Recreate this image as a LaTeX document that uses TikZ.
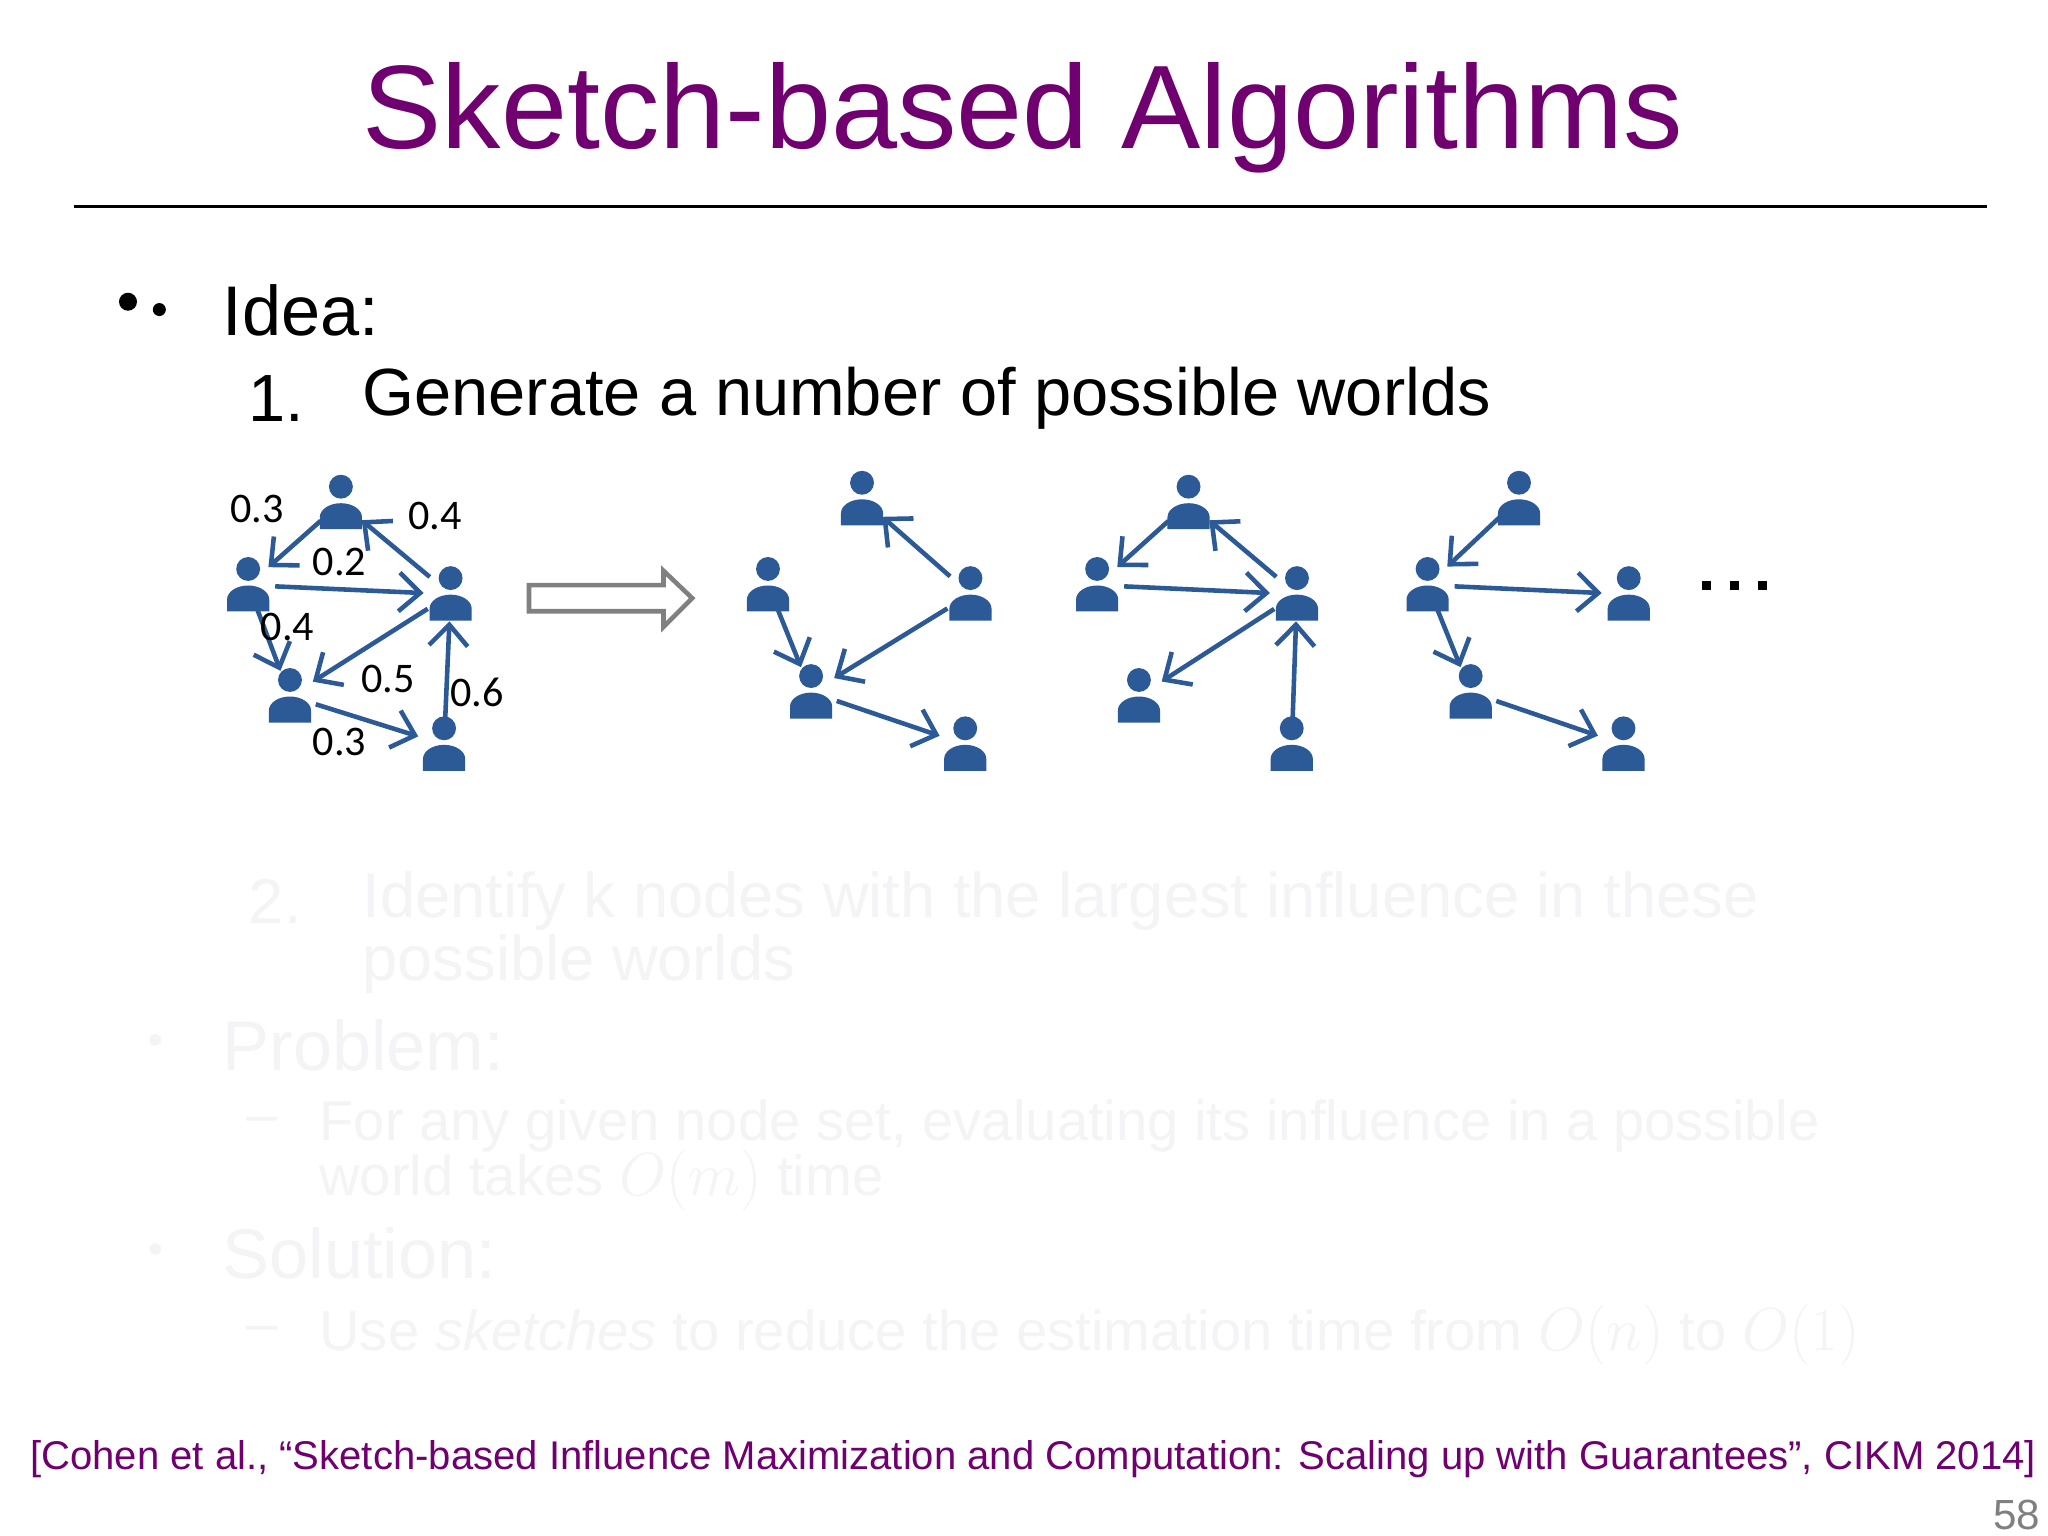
\documentclass[tikz,border=0pt]{standalone}
\usepackage{fontspec}
\setmainfont{Liberation Sans}
\newfontfamily\lblfont{Carlito}
\usetikzlibrary{arrows.meta}
\definecolor{ttl}{RGB}{112,0,112}
\definecolor{pblue}{RGB}{44,90,150}
\definecolor{faint}{RGB}{244,244,246}
\newcommand{\myicon}[1]{%
  \fill[pblue] ([yshift=4.6pt]#1.center) circle (3.4pt);
  \fill[pblue] ([xshift=-6pt,yshift=-7.5pt]#1.center) -- ++(0,3.4pt) arc[start angle=180,end angle=0,x radius=6pt,y radius=4pt] -- ++(0,-3.4pt) -- cycle;}
\tikzset{
 person/.style={circle,minimum size=15pt,inner sep=0pt},
 edge/.style={draw=pblue,line width=1.3pt,-{Straight Barb[length=6pt,width=11pt,line width=1.3pt]}},
 lbl/.style={font=\lblfont\fontsize{12}{14}\selectfont,inner sep=0pt},
 txt/.style={anchor=west,inner sep=0pt},
 fadedtxt/.style={anchor=west,inner sep=0pt,text=faint,font=\fontsize{18}{20}\selectfont}
}
\begin{document}
\begin{tikzpicture}[x=0.01306cm,y=-0.01306cm]
\useasboundingbox[fill=white] (0,0) rectangle (1568,1176);
\node[text=ttl,font=\fontsize{33.8}{36}\selectfont,inner sep=0pt] (title) at (783,90) {Sketch-based Algorithms};
\draw[line width=0.8pt] (57,158) -- (1521,158);
\fill (98,231) circle (0.09cm);
\fill (122,237) circle (0.065cm);
\node[txt,font=\fontsize{20}{22}\selectfont] (idea) at (170,238) {Idea:};
\node[txt,font=\fontsize{19}{20}\selectfont] (n1) at (190,305) {1.};
\node[txt,font=\fontsize{19}{20}\selectfont] (i1) at (277,305) {Generate a number of possible worlds};
% nodes
\node[person] (a1) at (261,385) {};
\node[person] (b1n) at (190,448) {};
\node[person] (c1) at (345,455) {};
\node[person] (d1) at (222,533) {};
\node[person] (e1) at (340,570) {};
\node[person] (a2) at (660,382) {};
\node[person] (b2) at (588,448) {};
\node[person] (c2) at (743,455) {};
\node[person] (d2) at (621,530) {};
\node[person] (e2) at (739,570) {};
\node[person] (a3) at (910,385) {};
\node[person] (b3) at (840,448) {};
\node[person] (c3) at (993,455) {};
\node[person] (d3) at (872,533) {};
\node[person] (e3) at (989,570) {};
\node[person] (a4) at (1163,382) {};
\node[person] (b4) at (1093,448) {};
\node[person] (c4) at (1247,455) {};
\node[person] (d4) at (1126,530) {};
\node[person] (e4) at (1243,570) {};
\foreach \n in {a1,b1n,c1,d1,e1,a2,b2,c2,d2,e2,a3,b3,c3,d3,e3,a4,b4,c4,d4,e4}{\myicon{\n}}
% graph 1
\draw[edge] (a1) -- (b1n);
\draw[edge] (c1) -- (a1);
\draw[edge] (b1n) -- (c1);
\draw[edge] (b1n) -- (d1);
\draw[edge] (c1) -- (d1);
\draw[edge] (e1) -- (c1);
\draw[edge] (d1) -- (e1);
\node[lbl] (l1) at (197,390) {0.3};
\node[lbl] (l2) at (333,395) {0.4};
\node[lbl] (l3) at (260,430) {0.2};
\node[lbl] (l4) at (220,480) {0.4};
\node[lbl] (l5) at (297,520) {0.5};
\node[lbl] (l6) at (365,530) {0.6};
\node[lbl] (l7) at (260,568) {0.3};
% hollow arrow
\draw[gray,line width=1.3pt,line join=miter] (405,448) -- (508,448) -- (508,437) -- (530,458) -- (508,480) -- (508,468) -- (405,468) -- cycle;
% world 2
\draw[edge] (c2) -- (a2);
\draw[edge] (b2) -- (d2);
\draw[edge] (c2) -- (d2);
\draw[edge] (d2) -- (e2);
% world 3
\draw[edge] (a3) -- (b3);
\draw[edge] (c3) -- (a3);
\draw[edge] (b3) -- (c3);
\draw[edge] (c3) -- (d3);
\draw[edge] (e3) -- (c3);
% world 4
\draw[edge] (a4) -- (b4);
\draw[edge] (b4) -- (c4);
\draw[edge] (b4) -- (d4);
\draw[edge] (d4) -- (e4);
\node[inner sep=0pt] (dots) at (1328,448) {\tikz{\fill (0,0) rectangle (2.6pt,2.6pt); \fill (8pt,0) rectangle (10.6pt,2.6pt); \fill (16pt,0) rectangle (18.6pt,2.6pt);}};
% faded text
\node[fadedtxt] (f1) at (190,690) {2.};
\node[fadedtxt] (f2) at (277,690) {Identify k nodes with the largest influence in these};
\node[fadedtxt] (f3) at (277,738) {possible worlds};
\node[fadedtxt,font=\fontsize{12}{14}\selectfont] (f4) at (113,800) {\textbullet};
\node[fadedtxt,font=\fontsize{20}{22}\selectfont] (f5) at (170,800) {Problem:};
\node[fadedtxt,font=\fontsize{16}{18}\selectfont] (f6) at (188,862) {--};
\node[fadedtxt,font=\fontsize{16}{18}\selectfont] (f7) at (244,862) {For any given node set, evaluating its influence in a possible};
\node[fadedtxt,font=\fontsize{16}{18}\selectfont] (f8) at (244,904) {world takes $O(m)$ time};
\node[fadedtxt,font=\fontsize{12}{14}\selectfont] (f9) at (113,960) {\textbullet};
\node[fadedtxt,font=\fontsize{20}{22}\selectfont] (f10) at (170,960) {Solution:};
\node[fadedtxt,font=\fontsize{16}{18}\selectfont] (f11) at (188,1022) {--};
\node[fadedtxt,font=\fontsize{16}{18}\selectfont] (f12) at (244,1022) {Use \textit{sketches} to reduce the estimation time from $O(n)$ to $O(1)$};
% citation
\node[text=ttl,font=\fontsize{11.4}{13}\selectfont,inner sep=0pt] (cite) at (791,1117) {[Cohen et al., “Sketch-based Influence Maximization and Computation: Scaling up with Guarantees”, CIKM 2014]};
\node[text=gray,font=\fontsize{12}{14}\selectfont,inner sep=0pt] (pg) at (1544,1160) {58};
\end{tikzpicture}
\end{document}
